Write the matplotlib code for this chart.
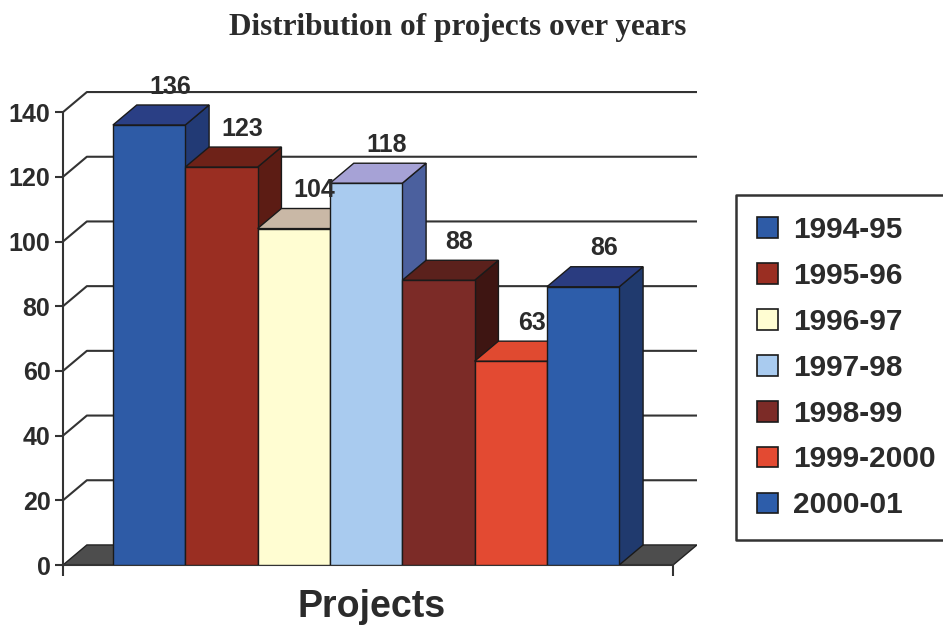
import numpy as np
import matplotlib
matplotlib.use("Agg")
import matplotlib.pyplot as plt
from matplotlib.patches import Polygon, Patch
from matplotlib.lines import Line2D

plt.rcParams["font.family"] = ["Liberation Sans", "DejaVu Sans"]

# data
seasons = ["1994-95", "1995-96", "1996-97", "1997-98", "1998-99", "1999-2000", "2000-01"]
projects = [136, 123, 104, 118, 88, 63, 86]
front_colors = ["#2E5BA6", "#9A2E22", "#FFFDD2", "#A9CBEF", "#7C2B27", "#E34A32", "#2D5DAA"]
top_colors = ["#2A3F85", "#6E2218", "#C9B8A6", "#A6A2D6", "#5B211C", "#E04A30", "#2A3C80"]
side_colors = ["#223A75", "#5C1C14", "#B0A080", "#4B609E", "#3E1512", "#A83020", "#203A6E"]
yticks = [0, 20, 40, 60, 80, 100, 120, 140]

DX, DY = 0.33, 6.2      # depth of the fake 3-D box: x in bar widths, y in data units
X0, X1 = -1.19, 7.245   # front edge of the floor
EDGE = "#1a1a1a"
TXT = "#2b2b2b"


def _box(ax, x, h, front, top, side, z):
    l, r = x - 0.5, x + 0.5
    faces = [
        ([(r, 0), (r + DX, DY), (r + DX, h + DY), (r, h)], side),
        ([(l, h), (r, h), (r + DX, h + DY), (l + DX, h + DY)], top),
        ([(l, 0), (r, 0), (r, h), (l, h)], front),
    ]
    for pts, c in faces:
        ax.add_patch(Polygon(pts, closed=True, facecolor=c, edgecolor=EDGE,
                             linewidth=1.0, zorder=z))


fig = plt.figure(figsize=(9.43, 6.28), dpi=100)
ax = fig.add_axes([0.0668, 0.1003, 0.6723, 0.7624])
ax.set_xlim(X0, X1 + DX)
ax.set_ylim(0, 148)

# back wall gridlines, bent forward to the front axis
for v in yticks[1:]:
    ax.plot([X0, X0 + DX, X1 + DX], [v, v + DY, v + DY], color="#333333", lw=1.5, zorder=1)
ax.add_patch(Polygon([(X0, 0), (X1, 0), (X1 + DX, DY), (X0 + DX, DY)], closed=True,
                     facecolor="#4d4d4d", edgecolor="#222222", lw=1.0, zorder=2))

for i, v in enumerate(projects):  # left to right so later bars hide earlier sides
    _box(ax, i, v, front_colors[i], top_colors[i], side_colors[i], 3 + i)
    ax.text(i + 0.29, v + DY + 3.5, str(v), ha="center", va="baseline", fontsize=18,
            fontweight="bold", color=TXT, zorder=20, clip_on=False)

for s in ("top", "right"):
    ax.spines[s].set_visible(False)
ax.spines["left"].set_bounds(0, 140)
ax.spines["bottom"].set_bounds(X0, X1)
for s in ("left", "bottom"):
    ax.spines[s].set_linewidth(1.5)
    ax.spines[s].set_color("#333333")
    ax.spines[s].set_zorder(2.5)
ax.set_yticks(yticks)
ax.set_xticks([X0, X1])
ax.set_xticklabels(["", ""])
ax.tick_params(axis="y", direction="out", length=6, width=1.5, color="#333333",
               labelsize=18, labelcolor=TXT, pad=3)
ax.tick_params(axis="x", direction="out", length=8, width=1.5, color="#333333")
for lbl in ax.get_yticklabels():
    lbl.set_fontweight("bold")
ax.patch.set_visible(False)

fig.text(458 / 943, 1 - 35 / 628, "Distribution of projects over years",
         family=["Liberation Serif", "DejaVu Serif"], fontweight="bold", fontsize=22.5,
         color=TXT, ha="center", va="baseline")
fig.text(372 / 943, 1 - 617 / 628, "Projects", fontsize=27, fontweight="bold",
         color=TXT, ha="center", va="baseline")

handles = [Patch(facecolor=c, edgecolor=EDGE, linewidth=1.2) for c in front_colors]
leg = fig.legend(handles, seasons, loc="upper left", bbox_to_anchor=(736 / 943, 1 - 195 / 628),
                 frameon=True, fancybox=False, framealpha=1, edgecolor="none",
                 prop={"weight": "bold", "size": 21.5}, handlelength=0.7, handleheight=0.7,
                 handletextpad=0.5, labelspacing=0.6, borderpad=0.7, borderaxespad=0)
for t in leg.get_texts():
    t.set_color(TXT)

# the scanned legend box is cut off at the right edge: draw only top, left, bottom
fig.canvas.draw()
bb = leg.get_window_extent().transformed(fig.transFigure.inverted())
fig.add_artist(Line2D([1.05, bb.x0, bb.x0, 1.05], [bb.y1, bb.y1, bb.y0, bb.y0],
                      transform=fig.transFigure, color="#333333", lw=1.8, zorder=10))

fig.savefig("out.png", dpi=100)
